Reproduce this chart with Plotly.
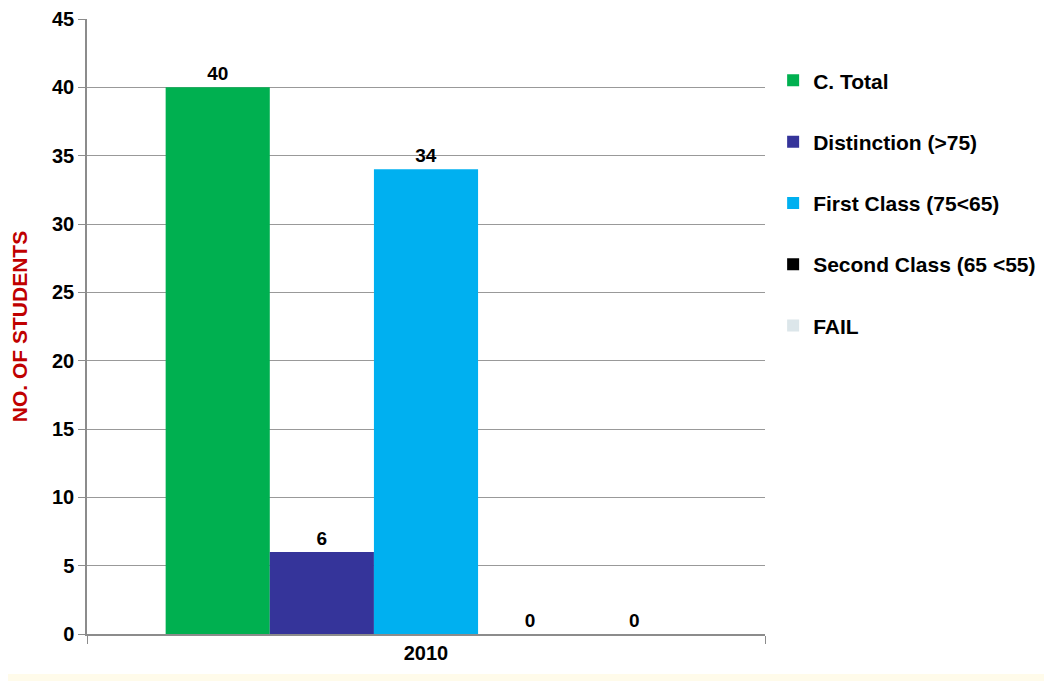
import plotly.graph_objects as go

categories = ["2010"]
series_names = ["C. Total", "Distinction (>75)", "First Class (75<65)", "Second Class (65 <55)", "FAIL"]
series_values = [[40], [6], [34], [0], [0]]
series_colors = ["#00B050", "#35349A", "#00B0F0", "#000000", "#DCE6EA"]
y_ticks = [0, 5, 10, 15, 20, 25, 30, 35, 40, 45]

FONT = "Liberation Sans, Arial, sans-serif"

fig = go.Figure()
for name, vals, col in zip(series_names, series_values, series_colors):
    fig.add_trace(go.Bar(
        x=categories, y=vals, name=name, marker=dict(color=col, line=dict(width=0)),
        text=[str(v) for v in vals],
        texttemplate="<b>%{text}</b>",
        textposition="outside", cliponaxis=False,
        textfont=dict(family=FONT, size=19, color="#000000"),
        legendgroup=name,
    ))

fig.update_layout(
    width=1044, height=673,
    barmode="group", bargap=0.232, bargroupgap=0,
    paper_bgcolor="#FFFFFF", plot_bgcolor="#FFFFFF",
    margin=dict(l=79, r=287, t=11, b=47),
    font=dict(family=FONT, size=19, color="#000000"),
    showlegend=True,
    legend=dict(x=1.012, y=0.933, xanchor="left", yanchor="top",
                font=dict(family=FONT, size=21, color="#000000", weight="bold"),
                tracegroupgap=31, traceorder="grouped", itemwidth=30, bgcolor="rgba(0,0,0,0)"),
)
fig.update_xaxes(
    showline=True, linecolor="#8C8C8C", linewidth=1.5,
    ticks="outside", tickson="boundaries", ticklen=8, tickcolor="#8C8C8C",
    tickfont=dict(family=FONT, size=20, weight="bold"), showgrid=False, automargin=False,
)
fig.update_yaxes(
    range=[0, 45], tickvals=y_ticks, showline=True, linecolor="#8C8C8C", linewidth=1.5,
    ticks="outside", ticklen=7, tickcolor="#8C8C8C",
    gridcolor="#999999", gridwidth=1.2, automargin=False,
    tickfont=dict(family=FONT, size=20, weight="bold"),
    title=dict(text="NO. OF STUDENTS", font=dict(family=FONT, size=21, color="#C00000", weight="bold"), standoff=22),
)
fig.add_shape(type="rect", xref="paper", yref="paper", x0=-0.2, x1=1.5, y0=-0.065, y1=-0.08,
              fillcolor="#FFFBEA", line=dict(width=0), layer="below")
fig.write_html("out.html")
